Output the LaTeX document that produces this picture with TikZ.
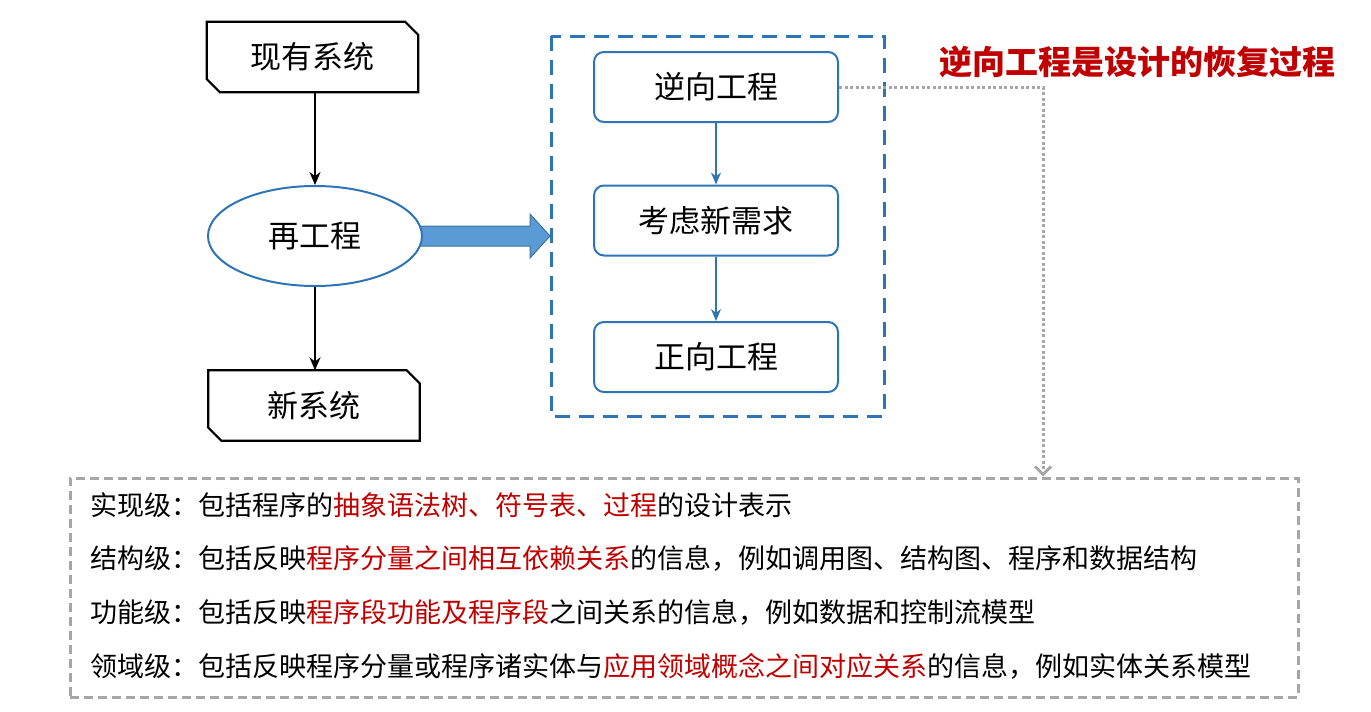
\documentclass[tikz,border=0pt]{standalone}
\usepackage{fontspec}
\setmainfont{Noto Sans CJK SC}
\usetikzlibrary{arrows.meta,shapes.geometric}
\definecolor{pblue}{HTML}{2E75B6}
\definecolor{afill}{HTML}{5B9BD5}
\definecolor{aline}{HTML}{41719C}
\definecolor{dred}{HTML}{C00000}
\definecolor{lgray}{HTML}{A6A6A6}
\newcommand\redt[1]{\textcolor{dred}{#1}}
\tikzset{
  sysbox/.style={minimum width=211pt, minimum height=70pt, inner sep=0pt, font=\fontsize{31}{36}\selectfont},
  stepbox/.style={draw=pblue, line width=2pt, rounded corners=10pt, minimum width=244pt, minimum height=70pt, inner sep=0pt, font=\fontsize{31}{36}\selectfont, fill=white},
  blkarrow/.style={-{Stealth[length=13pt,width=11pt]}, line width=1.8pt, black},
  bluearrow/.style={-{Stealth[length=12pt,width=10pt]}, line width=1.6pt, pblue},
  infoline/.style={anchor=west, inner sep=0pt, font=\fontsize{27}{30}\selectfont}
}
\begin{document}
\begin{tikzpicture}[x=1pt,y=-1pt]
\useasboundingbox (0,0) rectangle (1371,712);
\fill[white] (0,0) rectangle (1371,712);

% left column
\node[sysbox] (old) at (312.5,57) {现有系统};
\draw[line width=2.2pt] (old.north west) -- ([xshift=-13pt]old.north east) -- ([yshift=-13pt]old.north east) -- (old.south east) -- ([xshift=13pt]old.south west) -- ([yshift=13pt]old.south west) -- cycle;

\node[sysbox] (new) at (314,405.5) {新系统};
\draw[line width=2.2pt] (new.north west) -- ([xshift=-13pt]new.north east) -- ([yshift=-13pt]new.north east) -- (new.south east) -- ([xshift=13pt]new.south west) -- ([yshift=13pt]new.south west) -- cycle;

% block arrow (drawn before ellipse)
\filldraw[fill=afill, draw=aline, line width=1pt] (400,226) -- (530,226) -- (530,214) -- (550,236) -- (530,258) -- (530,246) -- (400,246) -- cycle;

\node[ellipse, draw=pblue, line width=2pt, fill=white, minimum width=214pt, minimum height=100pt, inner sep=0pt, font=\fontsize{31}{36}\selectfont] (re) at (315,236) {再工程};

\draw[blkarrow] (old.south -| re.north) -- (re.north);
\draw[blkarrow] (re.south) -- (re.south |- new.north);

% dashed blue container
\draw[pblue, line width=3pt, dash pattern=on 15pt off 9pt] (551,36) rectangle (884,416);

\node[stepbox] (rev) at (716,87) {逆向工程};
\node[stepbox] (req) at (716,220.5) {考虑新需求};
\node[stepbox] (fwd) at (716,357) {正向工程};
\draw[bluearrow] (rev.south) -- (req.north);
\draw[bluearrow] (req.south) -- (fwd.north);

% title
\node[text=dred, font=\fontsize{33}{38}\selectfont\bfseries, inner sep=0pt] (title) at (1137,62) {逆向工程是设计的恢复过程};

% gray dashed info box
\node[draw=lgray, line width=3pt, dash pattern=on 9pt off 5pt, minimum width=1228pt, minimum height=219pt, inner sep=0pt] (info) at (684,587.5) {};

% dotted connector
\coordinate (bend) at (1043,87);
\draw[lgray, line width=3pt, dash pattern=on 3pt off 2.5pt, -{Straight Barb[length=8pt,width=16pt,line width=3pt]}] (rev.east) -- (bend) -- (bend |- info.north);

% info lines
\node[infoline] (l1) at (90,505) {实现级：包括程序的\redt{抽象语法树、符号表、过程}的设计表示};
\node[infoline] (l2) at (90,558) {结构级：包括反映\redt{程序分量之间相互依赖关系}的信息，例如调用图、结构图、程序和数据结构};
\node[infoline] (l3) at (90,612) {功能级：包括反映\redt{程序段功能及程序段}之间关系的信息，例如数据和控制流模型};
\node[infoline] (l4) at (90,666) {领域级：包括反映程序分量或程序诸实体与\redt{应用领域概念之间对应关系}的信息，例如实体关系模型};
\end{tikzpicture}
\end{document}
